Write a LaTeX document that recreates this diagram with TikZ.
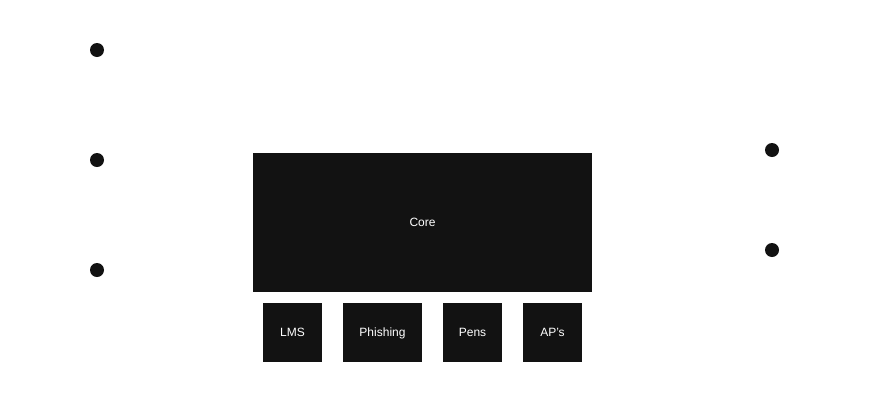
\documentclass[tikz,border=0pt]{standalone}
\usepackage{fontspec}
\setmainfont{Liberation Sans}
\definecolor{boxc}{HTML}{121212}
\begin{document}
\begin{tikzpicture}[x=1pt,y=-1pt,
  blk/.style={fill=boxc,draw=none,inner sep=0pt,text=white,font=\fontsize{12}{14}\selectfont,text height=8.6pt,text depth=0pt},
  dot/.style={circle,fill=boxc,draw=none,minimum size=14pt,inner sep=0pt}]
\useasboundingbox[fill=white] (0,0) rectangle (875,405);
\node[blk,minimum width=339pt,minimum height=139pt] (core) at (422.5,222.5) {Core};
\node[blk,minimum width=59pt,minimum height=59pt] (lms) at (292.5,332.5) {LMS};
\node[blk,minimum width=79pt,minimum height=59pt] (phish) at (382.5,332.5) {Phishing};
\node[blk,minimum width=59pt,minimum height=59pt] (pens) at (472.5,332.5) {Pens};
\node[blk,minimum width=59pt,minimum height=59pt] (aps) at (552.5,332.5) {AP's};
\node[dot] (l1) at (97,50) {};
\node[dot] (l2) at (97,160) {};
\node[dot] (l3) at (97,270) {};
\node[dot] (r1) at (772,150) {};
\node[dot] (r2) at (772,250) {};
\end{tikzpicture}
\end{document}
